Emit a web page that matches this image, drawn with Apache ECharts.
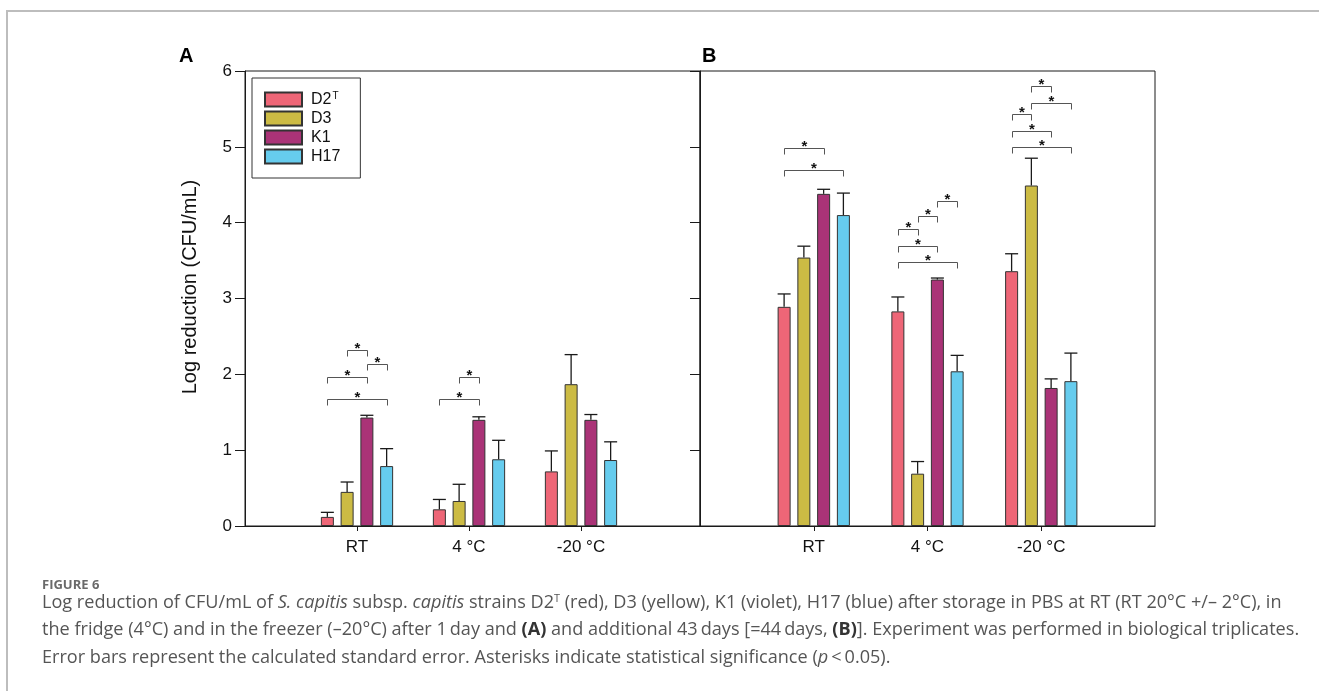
<!DOCTYPE html>
<html><head><meta charset="utf-8">
<script src="https://cdn.jsdelivr.net/npm/echarts@6/dist/echarts.min.js"></script>
<style>
html,body{margin:0;padding:0;background:#fff;overflow:hidden;}
#frame{position:absolute;left:6px;top:10px;width:1320px;height:700px;border-left:2px solid #bdbdbd;border-top:2px solid #bdbdbd;}
#chart{position:absolute;left:0;top:0;width:1319px;height:691px;}
</style></head><body>
<div id="frame"></div>
<div id="chart"></div>
<script>
// ---------- data ----------
const categories = ['RT', '4 °C', '-20 °C'];
const strains = ['D2T', 'D3', 'K1', 'H17'];
const colors = ['#EE6677', '#CCBB44', '#AA3377', '#66CCEE'];
const yTicks = [0, 1, 2, 3, 4, 5, 6];

// Panel A (1 day): mean log reduction per strain, per category
const meanA_D2T = [0.12, 0.22, 0.72];
const meanA_D3  = [0.45, 0.33, 1.87];
const meanA_K1  = [1.43, 1.40, 1.40];
const meanA_H17 = [0.79, 0.88, 0.87];
// Panel A standard errors
const seA_D2T = [0.06, 0.13, 0.27];
const seA_D3  = [0.13, 0.22, 0.39];
const seA_K1  = [0.03, 0.04, 0.07];
const seA_H17 = [0.23, 0.25, 0.24];

// Panel B (44 days)
const meanB_D2T = [2.89, 2.83, 3.36];
const meanB_D3  = [3.54, 0.69, 4.49];
const meanB_K1  = [4.38, 3.25, 1.82];
const meanB_H17 = [4.10, 2.04, 1.91];
const seB_D2T = [0.17, 0.19, 0.23];
const seB_D3  = [0.15, 0.16, 0.36];
const seB_K1  = [0.06, 0.02, 0.12];
const seB_H17 = [0.29, 0.21, 0.37];

// significance brackets: [category index, strain i, strain j, bracket height]
const sigA = [[0,1,2,2.32],[0,2,3,2.14],[0,0,2,1.96],[0,0,3,1.67],[1,1,2,1.96],[1,0,2,1.67]];
const sigB = [[0,0,2,4.99],[0,0,3,4.70],[1,0,1,3.92],[1,1,2,4.09],[1,2,3,4.28],[1,0,2,3.69],[1,0,3,3.48],
              [2,1,2,5.80],[2,1,3,5.58],[2,0,1,5.43],[2,0,2,5.21],[2,0,3,5.00]];

const captionLines = [
  'Log reduction of CFU/mL of {i|S. capitis} subsp. {i|capitis} strains D2{s|T} (red), D3 (yellow), K1 (violet), H17 (blue) after storage in PBS at RT (RT 20°C +/– 2°C), in',
  'the fridge (4°C) and in the freezer (–20°C) after 1\u2009day and {b|(A)} and additional 43\u2009days [=44\u2009days, {b|(B)}]. Experiment was performed in biological triplicates.',
  'Error bars represent the calculated standard error. Asterisks indicate statistical significance ({i|p}\u2009<\u20090.05).'
];

// ---------- style ----------
const FONT = '"Liberation Sans", Arial, sans-serif';
const CAPFONT = '"Open Sans", "Noto Sans", sans-serif';
const BAR_W = 13, BAR_GAP = 0.52;
const STEP = BAR_W * (1 + BAR_GAP);
const AXC = '#1a1a1a';
const capSize = 18.1;

const meansA = [meanA_D2T, meanA_D3, meanA_K1, meanA_H17];
const sesA = [seA_D2T, seA_D3, seA_K1, seA_H17];
const meansB = [meanB_D2T, meanB_D3, meanB_K1, meanB_H17];
const sesB = [seB_D2T, seB_D3, seB_K1, seB_H17];

function xAxisFor(grid, max) {
  return {
    type: 'value', gridIndex: grid, min: 0, max: max,
    axisLine: {show: true, lineStyle: {color: AXC, width: 1}},
    axisTick: {show: true, length: 5, customValues: [1, 2, 3], lineStyle: {color: AXC}},
    axisLabel: {show: true, customValues: [1, 2, 3], margin: 13,
      formatter: v => categories[Math.round(v) - 1] || '',
      fontSize: 17, fontFamily: FONT, color: '#111'},
    splitLine: {show: false}
  };
}
function yAxisFor(grid, labels) {
  return {
    type: 'value', gridIndex: grid, min: yTicks[0], max: yTicks[yTicks.length - 1], interval: 1,
    axisLine: {show: true, lineStyle: {color: AXC, width: 1}},
    axisTick: {show: true, length: 10, lineStyle: {color: AXC}},
    axisLabel: {show: labels, fontSize: 17, fontFamily: FONT, color: '#111', margin: 13},
    splitLine: {show: false}
  };
}

function errRender(params, api) {
  const x = api.value(0), m = api.value(1), e = api.value(2), i = api.value(3);
  const base = api.coord([x, m]);
  const top = api.coord([x, m + e]);
  const cx = base[0] + (i - 1.5) * STEP;
  const h = BAR_W / 2;
  return {type: 'group', children: [
    {type: 'line', shape: {x1: cx, y1: base[1], x2: cx, y2: top[1]}, style: {stroke: '#1a1a1a', lineWidth: 1.3}},
    {type: 'line', shape: {x1: cx - h, y1: top[1], x2: cx + h, y2: top[1]}, style: {stroke: '#1a1a1a', lineWidth: 1.3}}
  ]};
}
function sigRender(params, api) {
  const x = api.value(0), i = api.value(1), j = api.value(2), lv = api.value(3);
  const p = api.coord([x, lv]);
  const x1 = Math.round(p[0] + (i - 1.5) * STEP) + 0.5, x2 = Math.round(p[0] + (j - 1.5) * STEP) + 0.5;
  const y = Math.round(p[1]) + 0.5;
  return {type: 'group', children: [
    {type: 'polyline', shape: {points: [[x1, y + 6], [x1, y], [x2, y], [x2, y + 6]]},
      style: {stroke: '#555', lineWidth: 1, fill: null}},
    {type: 'text', style: {text: '*', x: (x1 + x2) / 2, y: y + 6, align: 'center', verticalAlign: 'bottom',
      fontSize: 15, fontWeight: 'bold', fontFamily: FONT, fill: '#111'}}
  ]};
}

const series = [];
[[meansA, sesA, sigA, 0], [meansB, sesB, sigB, 1]].forEach(([means, ses, sig, g]) => {
  strains.forEach((s, i) => {
    series.push({
      type: 'bar', name: s, xAxisIndex: g, yAxisIndex: g,
      barWidth: BAR_W, barGap: (BAR_GAP * 100) + '%',
      itemStyle: {color: colors[i], borderColor: '#333', borderWidth: 1},
      data: means[i].map((v, k) => [k + 1, v]),
      animation: false
    });
  });
  const err = [];
  strains.forEach((s, i) => means[i].forEach((v, k) => err.push([k + 1, v, ses[i][k], i])));
  series.push({type: 'custom', name: 'err' + g, xAxisIndex: g, yAxisIndex: g, z: 5,
    encode: {x: 0, y: 1}, renderItem: errRender, data: err, animation: false, silent: true});
  series.push({type: 'custom', name: 'sig' + g, xAxisIndex: g, yAxisIndex: g, z: 5,
    encode: {x: 0, y: 3}, renderItem: sigRender, data: sig.map(d => [d[0] + 1, d[1], d[2], d[3]]),
    animation: false, silent: true, clip: false});
});

function capText(t, y) {
  const base = {fontSize: capSize, fontFamily: CAPFONT, fontWeight: 'normal', fontStyle: 'normal', fill: '#555'};
  return {type: 'text', left: 42, top: y - 12, silent: true,
    style: Object.assign({}, base, {text: t, rich: {
      i: Object.assign({}, base, {fontStyle: 'italic'}),
      b: Object.assign({}, base, {fontWeight: 'bold', fill: '#333'}),
      s: Object.assign({}, base, {fontSize: capSize * 0.6, verticalAlign: 'top', lineHeight: capSize * 1.1})
    }})};
}

const chart = echarts.init(document.getElementById('chart'), null, {renderer: 'canvas'});
chart.setOption({
  animation: false,
  grid: [
    {left: 245, right: 619, top: 71, bottom: 165, show: true, borderColor: AXC, borderWidth: 1},
    {left: 700, right: 164, top: 71, bottom: 165, show: true, borderColor: AXC, borderWidth: 1}
  ],
  xAxis: [xAxisFor(0, 455 / 112), xAxisFor(1, 4)],
  yAxis: [yAxisFor(0, true), yAxisFor(1, false)],
  legend: {
    data: strains, orient: 'vertical', left: 252, top: 78,
    padding: [13, 20, 13, 12], itemWidth: 37, itemHeight: 14, itemGap: 2,
    icon: 'rect',
    borderColor: '#333', borderWidth: 1, backgroundColor: '#fff',
    selectedMode: false,
    formatter: n => n === 'D2T' ? '{n|D2}{sup|T}' : '{n|' + n + '}',
    textStyle: {fontSize: 16, fontFamily: FONT, color: '#111', lineHeight: 17, padding: [0, 0, 0, 4],
      rich: {
        n: {fontSize: 16, fontFamily: FONT, color: '#111', lineHeight: 17},
        sup: {fontSize: 10, fontFamily: FONT, color: '#111', lineHeight: 17, verticalAlign: 'top', padding: [0, 0, 5, 1]}
      }}
  },
  graphic: [
    {type: 'text', left: 179, top: 46, silent: true,
      style: {text: 'A', fontSize: 20, fontWeight: 'bold', fontFamily: FONT, fill: '#000'}},
    {type: 'text', left: 702, top: 46, silent: true,
      style: {text: 'B', fontSize: 20, fontWeight: 'bold', fontFamily: FONT, fill: '#000'}},
    {type: 'text', x: 190, y: 287, rotation: Math.PI / 2, silent: true,
      style: {text: 'Log reduction (CFU/mL)', align: 'center', verticalAlign: 'middle',
        fontSize: 20, fontFamily: FONT, fill: '#111'}},
    {type: 'text', left: 42, top: 579, silent: true,
      style: {text: 'FIGURE 6', fontSize: 13, fontWeight: 'bold', fontFamily: CAPFONT, fill: '#6a6a6a'}},
    capText(captionLines[0], 605),
    capText(captionLines[1], 633),
    capText(captionLines[2], 661)
  ],
  series: series
});
</script>
</body></html>
